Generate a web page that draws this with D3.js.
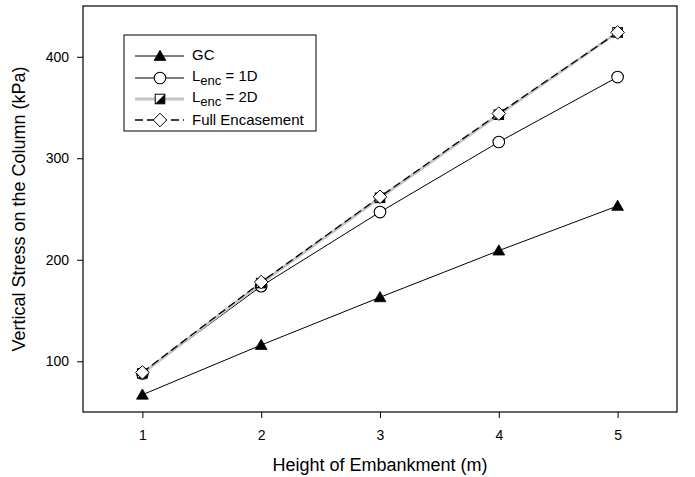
<!DOCTYPE html>
<html>
<head>
<meta charset="utf-8">
<script src="https://cdn.jsdelivr.net/npm/d3@7"></script>
<style>
  html, body { margin: 0; padding: 0; background: #fff; }
  svg { display: block; font-family: "Liberation Sans", Arial, sans-serif; }
</style>
</head>
<body>
<svg id="chart" width="695" height="477"></svg>
<script>
// Embankment height (m)
const heights = [1, 2, 3, 4, 5];
// Vertical stress on the column (kPa) for each case
const gcStress   = [67, 116, 163, 209, 253];
const enc1DStress = [88, 174, 247, 316, 380];
const enc2DStress = [88, 177, 261, 343, 424];
const fullStress  = [89, 178, 262, 344, 424];
const xTicks = [1, 2, 3, 4, 5];
const yTicks = [100, 200, 300, 400];

const svg = d3.select("#chart");
const m = { left: 83, right: 677, top: 6, bottom: 412 };

const x = d3.scaleLinear().domain([0.5, 5.5]).range([m.left, m.right]);
const y = d3.scaleLinear().domain([50, 450]).range([m.bottom, m.top]);

// frame
svg.append("rect")
  .attr("x", m.left).attr("y", m.top)
  .attr("width", m.right - m.left).attr("height", m.bottom - m.top)
  .attr("fill", "none").attr("stroke", "#000").attr("stroke-width", 1.2);

// axes
const xAxis = svg.append("g").attr("transform", `translate(0,${m.bottom})`)
  .call(d3.axisBottom(x).tickValues(xTicks).tickSize(6).tickPadding(12).tickFormat(d3.format("d")));
const yAxis = svg.append("g").attr("transform", `translate(${m.left},0)`)
  .call(d3.axisLeft(y).tickValues(yTicks).tickSize(6).tickPadding(8).tickFormat(d3.format("d")));
[xAxis, yAxis].forEach(a => {
  a.attr("font-size", 14).attr("font-family", "Liberation Sans, Arial, sans-serif");
  a.select(".domain").remove();
  a.selectAll("line").attr("stroke", "#000").attr("stroke-width", 1);
  a.selectAll("text").attr("fill", "#000");
});

// axis titles
svg.append("text")
  .attr("x", (m.left + m.right) / 2).attr("y", 471)
  .attr("text-anchor", "middle").attr("font-size", 18)
  .text("Height of Embankment (m)");
svg.append("text")
  .attr("transform", `translate(25,${(m.top + m.bottom) / 2}) rotate(-90)`)
  .attr("text-anchor", "middle").attr("font-size", 18)
  .text("Vertical Stress on the Column (kPa)");

const line = d3.line().x((d, i) => x(heights[i])).y(d => y(d));

// marker drawers
const triPath = d3.symbol().type(d3.symbolTriangle).size(60);
function drawTriangle(g, cx, cy) {
  g.append("path").attr("d", triPath()).attr("transform", `translate(${cx},${cy + 1})`)
    .attr("fill", "#000").attr("stroke", "#000").attr("stroke-width", 0.8);
}
function drawCircle(g, cx, cy) {
  g.append("circle").attr("cx", cx).attr("cy", cy).attr("r", 5.8)
    .attr("fill", "#fff").attr("stroke", "#000").attr("stroke-width", 1.1);
}
function drawHalfSquare(g, cx, cy) {
  const s = 4.8;
  g.append("rect").attr("x", cx - s).attr("y", cy - s).attr("width", 2 * s).attr("height", 2 * s)
    .attr("fill", "#fff").attr("stroke", "#000").attr("stroke-width", 1);
  g.append("path")
    .attr("d", `M${cx + s},${cy - s}L${cx + s},${cy + s}L${cx - s},${cy + s}Z`)
    .attr("fill", "#000");
}
function drawDiamond(g, cx, cy) {
  const s = 6.8;
  g.append("path")
    .attr("d", `M${cx},${cy - s}L${cx + s},${cy}L${cx},${cy + s}L${cx - s},${cy}Z`)
    .attr("fill", "#fff").attr("stroke", "#000").attr("stroke-width", 1);
}

const series = [
  { name: "GC", values: gcStress, stroke: "#000", width: 1, dash: null, marker: drawTriangle },
  { name: "1D", values: enc1DStress, stroke: "#000", width: 1, dash: null, marker: drawCircle },
  { name: "2D", values: enc2DStress, stroke: "#c4c4c4", width: 3, dash: null, marker: drawHalfSquare },
  { name: "Full", values: fullStress, stroke: "#000", width: 1.3, dash: "8,4", marker: drawDiamond }
];

const plot = svg.append("g");
series.forEach(s => {
  plot.append("path").datum(s.values).attr("d", line)
    .attr("fill", "none").attr("stroke", s.stroke).attr("stroke-width", s.width)
    .attr("stroke-dasharray", s.dash);
});
series.forEach(s => {
  const g = plot.append("g");
  s.values.forEach((v, i) => s.marker(g, x(heights[i]), y(v)));
});

// legend
const leg = svg.append("g");
leg.append("rect").attr("x", 124).attr("y", 35).attr("width", 192).attr("height", 96)
  .attr("fill", "#fff").attr("stroke", "#000").attr("stroke-width", 1);
const rows = [56, 78, 99, 120];
const lx1 = 135, lx2 = 184, lmx = 160, ltx = 192;
series.forEach((s, i) => {
  const ry = rows[i];
  leg.append("line").attr("x1", lx1).attr("x2", lx2).attr("y1", ry).attr("y2", ry)
    .attr("stroke", s.stroke).attr("stroke-width", s.width)
    .attr("stroke-dasharray", s.dash);
  s.marker(leg, lmx, ry);
});
function legendText(ry, main, sub, rest) {
  const t = leg.append("text").attr("x", ltx).attr("y", ry + 5).attr("font-size", 15);
  t.append("tspan").text(main);
  if (sub) {
    t.append("tspan").attr("font-size", 13).attr("dy", 3.5).text(sub);
    t.append("tspan").attr("dy", -3.5).text(rest);
  }
}
legendText(rows[0] - 1, "GC");
legendText(rows[1] - 2, "L", "enc", " = 1D");
legendText(rows[2] - 2, "L", "enc", " = 2D");
legendText(rows[3], "Full Encasement");
</script>
</body>
</html>
